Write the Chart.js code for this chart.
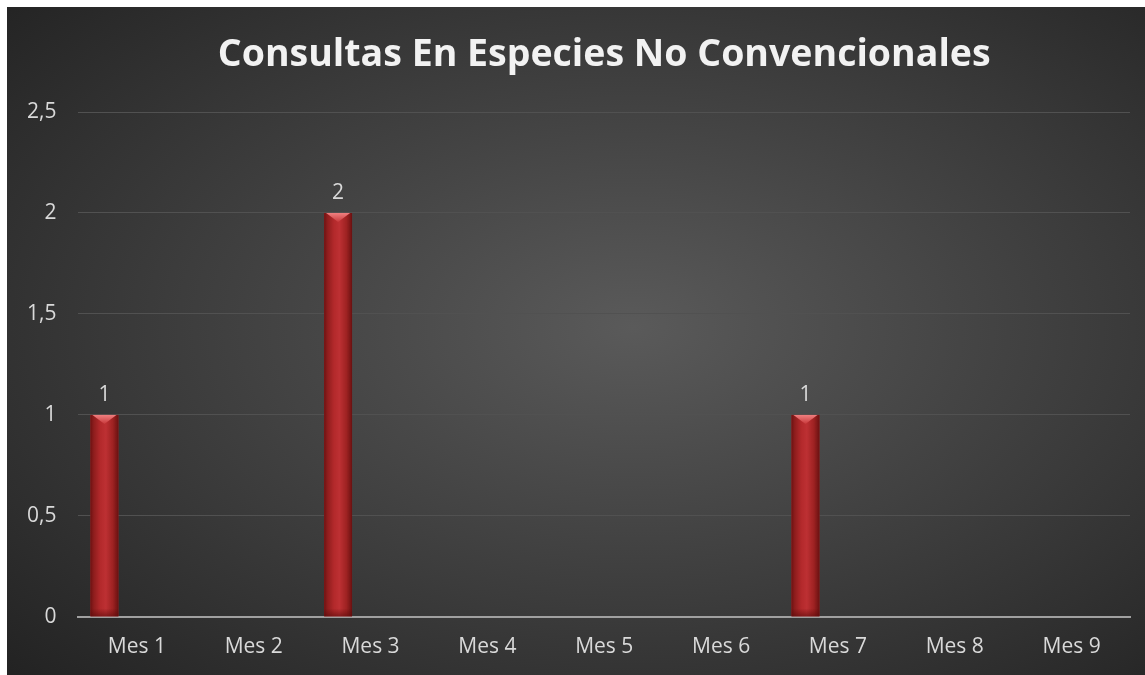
<!DOCTYPE html>
<html>
<head>
<meta charset="utf-8">
<script src="https://cdn.jsdelivr.net/npm/chart.js@4/dist/chart.umd.min.js"></script>
<style>
    html, body { margin: 0; padding: 0; background: #fff; }
    #wrap {
        position: absolute; left: 7px; top: 7px; width: 1138px; height: 668px;
        background: radial-gradient(ellipse 75% 75% at 55% 48%, #5a5a5a 0%, #3c3c3c 55%, #232323 100%);
    }
    canvas { display: block; }
</style>
</head>
<body>
<div id="wrap"><canvas id="chart" width="1138" height="668"></canvas></div>
<script>
const months = ['Mes 1', 'Mes 2', 'Mes 3', 'Mes 4', 'Mes 5', 'Mes 6', 'Mes 7', 'Mes 8', 'Mes 9']
// only the first series has values; the other two are empty in the source sheet
const consultas = [1, null, 2, null, null, null, 1, null, null]
const serie2 = [null, null, null, null, null, null, null, null, null]
const serie3 = [null, null, null, null, null, null, null, null, null]
const yTicks = [0, 0.5, 1, 1.5, 2, 2.5]

const FONT = "'Open Sans', 'DejaVu Sans', sans-serif"

// repaint bars with a cylinder-like gradient and a bevel on top
const barStyle = {
    id: 'barStyle',
    afterDatasetsDraw(chart) {
        let ctx = chart.ctx
        let meta = chart.getDatasetMeta(0)
        ctx.save()
        for (let bar of meta.data) {
            if (bar.skip || bar.y == null || isNaN(bar.y)) continue
            let left = bar.x - bar.width / 2
            let right = bar.x + bar.width / 2
            let top = bar.y
            let bottom = bar.base
            if (bottom - top < 1) continue
            let g = ctx.createLinearGradient(left, 0, right, 0)
            g.addColorStop(0, '#6e1212')
            g.addColorStop(0.12, '#8e1d1d')
            g.addColorStop(0.35, '#b3292b')
            g.addColorStop(0.55, '#bd3033')
            g.addColorStop(0.8, '#9e2222')
            g.addColorStop(1, '#6a1111')
            ctx.fillStyle = g
            ctx.fillRect(left, top, right - left, bottom - top)
            // bevel on top
            let bev = ctx.createLinearGradient(0, top, 0, top + 9)
            bev.addColorStop(0, '#f08080')
            bev.addColorStop(1, '#c8393b')
            ctx.fillStyle = bev
            ctx.beginPath()
            ctx.moveTo(left + 2, top)
            ctx.lineTo(right - 2, top)
            ctx.lineTo(bar.x, top + 9)
            ctx.closePath()
            ctx.fill()
            // darker band at the base
            let base = ctx.createLinearGradient(0, bottom - 8, 0, bottom)
            base.addColorStop(0, 'rgba(90,10,10,0)')
            base.addColorStop(1, 'rgba(90,10,10,0.6)')
            ctx.fillStyle = base
            ctx.fillRect(left, bottom - 8, right - left, 8)
        }
        ctx.restore()
    }
}

// value labels above bars
const valueLabels = {
    id: 'valueLabels',
    afterDatasetsDraw(chart) {
        let ctx = chart.ctx
        let meta = chart.getDatasetMeta(0)
        ctx.save()
        ctx.font = '21px ' + FONT
        ctx.fillStyle = '#d9d9d9'
        ctx.textAlign = 'center'
        ctx.textBaseline = 'middle'
        meta.data.forEach((bar, i) => {
            let v = consultas[i]
            if (v == null) return
            ctx.fillText(String(v).replace('.', ','), bar.x, bar.y - 20)
        })
        ctx.restore()
    }
}

new Chart(document.getElementById('chart'), {
    type: 'bar',
    data: {
        labels: months,
        datasets: [
            { label: 'Consultas', data: consultas, backgroundColor: '#b02828' },
            { label: 'Serie 2', data: serie2, backgroundColor: 'transparent' },
            { label: 'Serie 3', data: serie3, backgroundColor: 'transparent' },
        ]
    },
    options: {
        responsive: false,
        animation: false,
        layout: { padding: { top: 0, left: -2, right: 15, bottom: -3 } },
        datasets: { bar: { categoryPercentage: 0.833, barPercentage: 0.86 } },
        scales: {
            x: {
                grid: { display: false, drawTicks: false },
                border: { display: true, color: '#a0a0a0', width: 2 },
                ticks: { color: '#d9d9d9', font: { family: FONT, size: 21 }, padding: 18 }
            },
            y: {
                min: 0,
                max: 2.5,
                afterBuildTicks: axis => { axis.ticks = yTicks.map(v => ({ value: v })) },
                grid: { color: '#515151', lineWidth: 1, drawTicks: false },
                border: { display: false },
                ticks: {
                    color: '#d9d9d9',
                    font: { family: FONT, size: 21 },
                    padding: 22,
                    callback: v => String(v).replace('.', ',')
                }
            }
        },
        plugins: {
            legend: { display: false },
            tooltip: { enabled: false },
            title: {
                display: true,
                fullSize: false,
                text: 'Consultas En Especies No Convencionales',
                color: '#f2f2f2',
                font: { family: FONT, size: 37.5, weight: 'bold' },
                padding: { top: 26, bottom: 34 }
            }
        }
    },
    plugins: [barStyle, valueLabels]
})
</script>
</body>
</html>
